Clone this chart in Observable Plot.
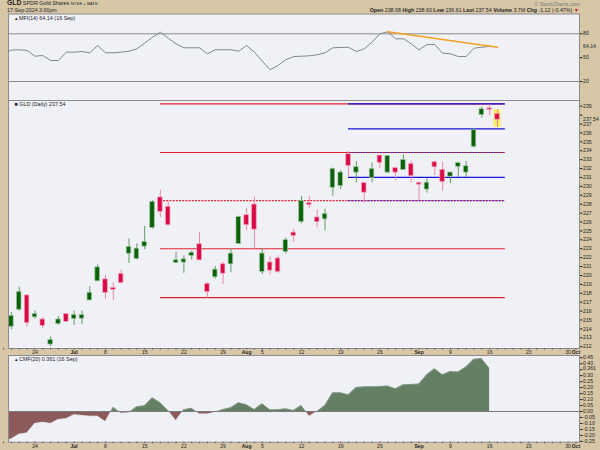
<!DOCTYPE html>
<html><head><meta charset="utf-8">
<script src="https://cdn.jsdelivr.net/npm/d3@7"></script>
<script src="https://cdn.jsdelivr.net/npm/@observablehq/plot@0.6"></script>
<style>
html,body{margin:0;padding:0;background:#d7c7a7;}
#wrap{position:relative;width:600px;height:450px;background:#d7c7a7;overflow:hidden;font-family:"Liberation Sans",Arial,sans-serif;color:#222;font-size:5.3px;}
#wrap svg{position:absolute;left:0;overflow:visible;}
.hd{position:absolute;white-space:nowrap;line-height:1;z-index:5;font-size:5.3px;}
</style></head><body>
<div id="wrap"></div>
<script>
// ---------- DATA ----------
const P = s => s.split(" ").map(d => "2024-" + d);
const days = P("06-17 06-18 06-20 06-21 06-24 06-25 06-26 06-27 06-28 07-01 07-02 07-03 07-05 07-08 07-09 07-10 07-11 07-12 07-15 07-16 07-17 07-18 07-19 07-22 07-23 07-24 07-25 07-26 07-29 07-30 07-31 08-01 08-02 08-05 08-06 08-07 08-08 08-09 08-12 08-13 08-14 08-15 08-16 08-19 08-20 08-21 08-22 08-23 08-26 08-27 08-28 08-29 08-30 09-03 09-04 09-05 09-06 09-09 09-10 09-11 09-12 09-13 09-16 09-17 09-18 09-19 09-20 09-23 09-24 09-25 09-26 09-27 09-30 10-01");
const candleDates = days.slice(1, 64);
const open  = [214.3,216.2,217.7,215.35,215.0,212.3,214.6,215.6,215.15,215.2,217.25,219.4,219.5,218.55,220.1,222.5,221.9,223.3,225.4,228.7,227.65,221.45,221.5,222.25,223.45,219.0,219.85,221.2,221.3,223.6,226.7,227.9,220.45,221.4,221.85,222.7,224.75,226.05,228.05,226.45,226.35,229.9,230.1,233.55,231.6,230.3,231.0,233.4,231.6,232.0,231.9,232.45,230.35,229.7,232.65,231.8,231.15,232.25,231.6,234.5,238.05,238.7,238.08];
const high  = [215.85,218.7,217.8,216.0,215.3,213.1,215.4,215.75,216.0,216.0,218.75,221.2,220.0,219.2,220.6,224.1,223.55,225.5,228.4,229.6,228.3,222.6,222.2,222.7,224.85,219.2,221.0,221.5,223.0,226.65,227.5,228.8,223.05,222.1,222.2,224.2,225.2,228.9,228.9,227.4,227.45,232.05,231.8,233.9,232.8,230.3,232.65,233.45,233.4,232.0,233.55,232.8,230.4,230.85,232.8,232.7,231.5,232.7,232.8,236.45,238.9,239.15,238.60];
const low   = [213.9,216.0,214.2,215.1,214.0,212.0,214.4,214.8,214.4,214.5,217.2,219.35,217.3,217.2,219.05,221.35,221.75,222.9,225.2,226.5,225.5,221.35,220.25,221.75,221.75,217.45,219.6,219.0,220.3,223.5,225.0,222.8,220.1,220.0,220.25,222.4,223.7,225.8,227.5,225.35,225.0,228.9,229.65,231.0,230.4,228.15,230.4,232.0,231.5,230.65,231.8,230.4,228.4,229.25,231.2,229.45,230.3,231.0,231.0,234.3,237.65,237.9,236.61];
const close = [215.4,218.1,214.7,215.6,214.4,212.7,215.0,214.85,215.5,215.5,218.0,220.85,218.1,218.45,219.2,223.15,222.95,223.7,228.2,227.2,225.7,221.65,221.75,222.5,221.75,218.2,220.6,220.25,222.4,226.5,225.7,225.2,222.4,220.6,220.45,223.9,224.5,228.3,227.95,226.05,226.85,231.9,231.5,232.35,232.1,229.35,231.9,232.7,233.35,231.6,232.9,231.2,230.25,230.35,232.2,230.55,231.5,232.55,232.2,236.25,238.6,238.66,237.54];
const lastVolume = "3.7M";

const indicatorDates = days.slice(0, 63);
const mfi = [55,59.6,59.9,59.0,51.8,52.7,46.4,46.4,56.9,56.9,57.7,56.1,65.3,56.1,56.1,56.9,58.1,61.1,68.2,75.7,82.0,74.5,67.4,62.4,62.4,62.4,54.8,59.9,59.9,59.9,58.1,65.3,56.9,45.5,34.7,40.1,47.3,51.4,51.8,52.3,53.6,56.1,62.4,62.8,63.1,57.7,61.1,69.4,80.0,82.5,73.7,73.7,67.4,59.9,66.5,66.5,55.6,54.8,51.4,51.4,61.9,63.1,64.14];
const cmf = [-0.25,-0.23,-0.19,-0.18,-0.10,-0.09,-0.10,-0.067,-0.06,-0.028,-0.034,-0.04,-0.04,-0.084,0.036,-0.014,-0.011,0.04,0.048,0.115,0.073,0.008,-0.076,0.014,0.028,-0.02,-0.02,-0.006,0.017,0.031,0.073,0.056,0.017,0.065,0.014,0.014,0.023,0.008,0.05,-0.04,0.0,0.05,0.157,0.157,0.14,0.2,0.207,0.207,0.21,0.213,0.19,0.224,0.227,0.23,0.308,0.358,0.308,0.336,0.33,0.372,0.437,0.443,0.361];

const mfiLevels = [80, 20];
const mfiTicks = [80, 50, 20];
const mfiTrendDates = P("08-27 09-17");
const mfiTrendValues = [82.5, 63.1];

const redSolid = [239.27, 233.8, 223.0, 217.5];
const redDotted = [228.4];
const blueSolid = [239.27, 236.46, 231.0];
const blueDotted = [233.8, 228.4];
const redFrom = "2024-07-17", blueFrom = "2024-08-20", linesTo = "2024-09-18";

const priceTicks = d3.range(212, 240);
// 238 and 0.35 sit under the value boxes in the reference
const priceTickLabels = priceTicks.filter(v => v !== 238);
const cmfTickMarks = [0.45,0.40,0.35,0.30,0.25,0.20,0.15,0.10,0.05,0,-0.05,-0.10,-0.15,-0.20,-0.25];
const cmfTicks = cmfTickMarks.filter(v => v !== 0.35);
const tickDates = P("06-24 07-01 07-08 07-15 07-22 07-29 08-01 08-05 08-12 08-19 08-26 09-03 09-09 09-16 09-23 09-30 10-01");
const tickLabels = ["24","Jul","8","15","22","29","Aug","5","12","19","26","Sep","9","16","23","30","Oct"];
const months = ["Jul","Aug","Sep","Oct"];

// ---------- BUILD ----------
const K = d => days.indexOf(d);
const xDom = [0.63, 73.46];
const BG = "#f0f0f7", FRAME = "#8c8c8c";
const FONT = "Liberation Sans, Arial, sans-serif";
const wrap = document.getElementById("wrap");

function base(h, mt, mb, ydom) {
  return {width: 600, height: h, marginLeft: 8, marginRight: 21, marginTop: mt, marginBottom: mb,
    x: {type: "linear", domain: xDom, label: null},
    y: {type: "linear", domain: ydom, label: null},
    color: {type: "identity"},
    style: {background: "transparent", fontFamily: FONT, fontSize: "5.2px", color: "#222", overflow: "visible"}};
}
const tickKs = tickDates.map(K);
const dateAxes = () => [
  Plot.axisX({anchor: "bottom", ticks: days.map((d, i) => i), tickSize: 1.5, tickFormat: () => "", label: null, stroke: "#555"}),
  Plot.axisX({anchor: "bottom", ticks: tickKs, tickFormat: k => tickLabels[tickKs.indexOf(k)], tickSize: 0, tickPadding: 1.8, label: null, fontSize: 5})
];
const yAxisRight = (marks, labels, fmt) => [
  Plot.axisY({anchor: "right", ticks: marks, tickSize: 2.5, tickFormat: () => "", label: null}),
  Plot.axisY({anchor: "right", ticks: labels, tickSize: 0, tickPadding: 3.5, label: null, ...(fmt ? {tickFormat: fmt} : {})})
];
const valueBox = v => Plot.text([v], {x: () => xDom[1], y: d => d, text: d => String(d), dx: 3.5, textAnchor: "start", ariaLabel: "valuebox", fontSize: 5.2});
const panelLabel = s => Plot.text([s], {frameAnchor: "top-left", dx: 6, dy: 1.8, textAnchor: "start", fontSize: 5.4, fill: "#222"});

// MFI panel
const mfiData = indicatorDates.map((d, i) => ({k: K(d), v: mfi[i]}));
const trend = mfiTrendDates.map((d, i) => ({k: K(d), v: mfiTrendValues[i]}));
const mfiChart = Plot.plot({
  ...base(100, 13.5, 0, [-3.9, 104.9]),
  marks: [
    Plot.frame({fill: BG, stroke: "none"}),
    Plot.ruleY(mfiLevels, {stroke: "#8a8a8a", strokeWidth: 1}),
    Plot.line(mfiData, {x: "k", y: "v", stroke: "#7d8b80", strokeWidth: 1, clip: true}),
    Plot.line(trend, {x: "k", y: "v", stroke: "#f3a024", strokeWidth: 1.5}),
    Plot.frame({stroke: FRAME, fill: "none"}),
    ...yAxisRight(mfiTicks, mfiTicks),
    panelLabel(`\u25B4 MFI(14) ${mfi[mfi.length - 1]} (16 Sep)`),
    valueBox(mfi[mfi.length - 1])
  ]
});

// Price panel
const candles = candleDates.map((d, i) => ({k: K(d), o: open[i], h: high[i], l: low[i], c: close[i], up: close[i] >= open[i]}));
const last = candles[candles.length - 1];
const hl = (arr, from, opts) => Plot.ruleY(arr, {y: d => d, x1: () => K(from), x2: () => K(linesTo), ...opts});
const priceChart = Plot.plot({
  ...base(256, 0, 8, [211.8, 239.64]),
  marks: [
    Plot.frame({fill: BG, stroke: "none"}),
    hl(redSolid, redFrom, {stroke: "#e4232c", strokeWidth: 1.2}),
    hl(redDotted, redFrom, {stroke: "#e4232c", strokeWidth: 1.2, strokeDasharray: "2,1.2"}),
    hl(blueSolid, blueFrom, {stroke: "#1414d8", strokeWidth: 1.2}),
    hl(blueDotted, blueFrom, {stroke: "#2a2ae0", strokeWidth: 1.2, strokeDasharray: "1.4,1.8"}),
    Plot.rect([last], {x1: d => d.k - 0.45, x2: d => d.k + 0.45, y1: "l", y2: "h", fill: "#f8f060"}),
    Plot.ruleX(candles, {x: "k", y1: "l", y2: "h", stroke: d => d.up ? "#5f9c5f" : "#ee89a6", strokeWidth: 1}),
    Plot.rect(candles, {x1: d => d.k - 0.29, x2: d => d.k + 0.29, y1: d => Math.min(d.o, d.c), y2: d => Math.max(d.o, d.c),
      fill: d => d.up ? "#0b620b" : "#da0a46", stroke: d => d.up ? "#9cc29c" : "#f1a0b5", strokeWidth: 0.7, insetTop: -0.5, insetBottom: -0.5}),
    Plot.frame({stroke: FRAME, fill: "none"}),
    ...yAxisRight(priceTicks, priceTickLabels),
    ...dateAxes(),
    panelLabel(`\u25A0 GLD (Daily) ${close[close.length - 1]}`),
    valueBox(last.c)
  ]
});

// CMF panel
const cmfData = indicatorDates.map((d, i) => ({k: K(d), v: cmf[i]}));
const cmfChart = Plot.plot({
  ...base(95, 0, 8.3, [-0.257, 0.469]),
  marks: [
    Plot.frame({fill: BG, stroke: "none"}),
    Plot.areaY(cmfData, {x: "k", y: "v", fill: "url(#cmfgrad)", clip: true}),
    Plot.line(cmfData, {x: "k", y: "v", stroke: "#c8d0c8", strokeWidth: 0.5, strokeOpacity: 0.6, clip: true}),
    Plot.ruleY([0], {stroke: "#7a7a7a", strokeWidth: 1}),
    Plot.frame({stroke: FRAME, fill: "none"}),
    ...yAxisRight(cmfTickMarks, cmfTicks, d => d.toFixed(2)),
    ...dateAxes(),
    panelLabel(`\u25B4 CMF(20) ${cmf[cmf.length - 1]} (16 Sep)`),
    valueBox(cmf[cmf.length - 1])
  ]
});

[[mfiChart, 0], [priceChart, 100], [cmfChart, 355]].forEach(([svg, top]) => {
  svg.style.position = "absolute"; svg.style.top = top + "px"; svg.style.left = "0px";
  wrap.appendChild(svg);
  d3.select(svg).selectAll("text").filter(function () { return months.includes(this.textContent); })
    .attr("font-weight", "bold");
  svg.querySelectorAll('g[aria-label="valuebox"] text').forEach(t => {
    const b = t.getBBox();
    const r = document.createElementNS("http://www.w3.org/2000/svg", "rect");
    r.setAttribute("x", b.x - 1); r.setAttribute("y", b.y - 0.3);
    r.setAttribute("width", b.width + 2); r.setAttribute("height", b.height + 0.6);
    r.setAttribute("fill", "#ffffff"); r.setAttribute("stroke", "#555"); r.setAttribute("stroke-width", 0.6);
    if (t.getAttribute("transform")) r.setAttribute("transform", t.getAttribute("transform"));
    t.parentNode.insertBefore(r, t);
  });
});

// CMF split colour gradient at zero
const y0 = cmfChart.scale("y").apply(0);
const H = 95;
const grad = d3.select(cmfChart).insert("defs", ":first-child").append("linearGradient")
  .attr("id", "cmfgrad").attr("gradientUnits", "userSpaceOnUse")
  .attr("x1", 0).attr("x2", 0).attr("y1", 0).attr("y2", H);
grad.append("stop").attr("offset", y0 / H).attr("stop-color", "#647f64");
grad.append("stop").attr("offset", y0 / H).attr("stop-color", "#8c5a5a");

// Header
const n = close.length;
const chg = close[n - 1] - close[n - 2];
const pct = chg / close[n - 2] * 100;
const f2 = v => v.toFixed(2);
wrap.insertAdjacentHTML("beforeend", `
<div class="hd" style="left:7px;top:0px;"><b style="font-size:6.8px">GLD</b> <span style="font-size:5.4px">SPDR Gold Shares</span> <span style="font-size:4.2px">NYSE + BATS</span></div>
<div class="hd" style="left:7px;top:8px;">17-Sep-2024 3:00pm</div>
<div class="hd" style="right:20px;top:1.5px;color:#777">\u00A9 StockCharts.com</div>
<div class="hd" style="right:21px;top:7.8px;"><b>Open</b> ${f2(open[n-1])} <b>High</b> ${f2(high[n-1])} <b>Low</b> ${f2(low[n-1])} <b>Last</b> ${f2(close[n-1])} <b>Volume</b> ${lastVolume} <b>Chg</b> ${f2(chg)} (${f2(pct)}%) <span style="color:#d0103a">\u25BC</span></div>
`);
</script>
</body></html>
